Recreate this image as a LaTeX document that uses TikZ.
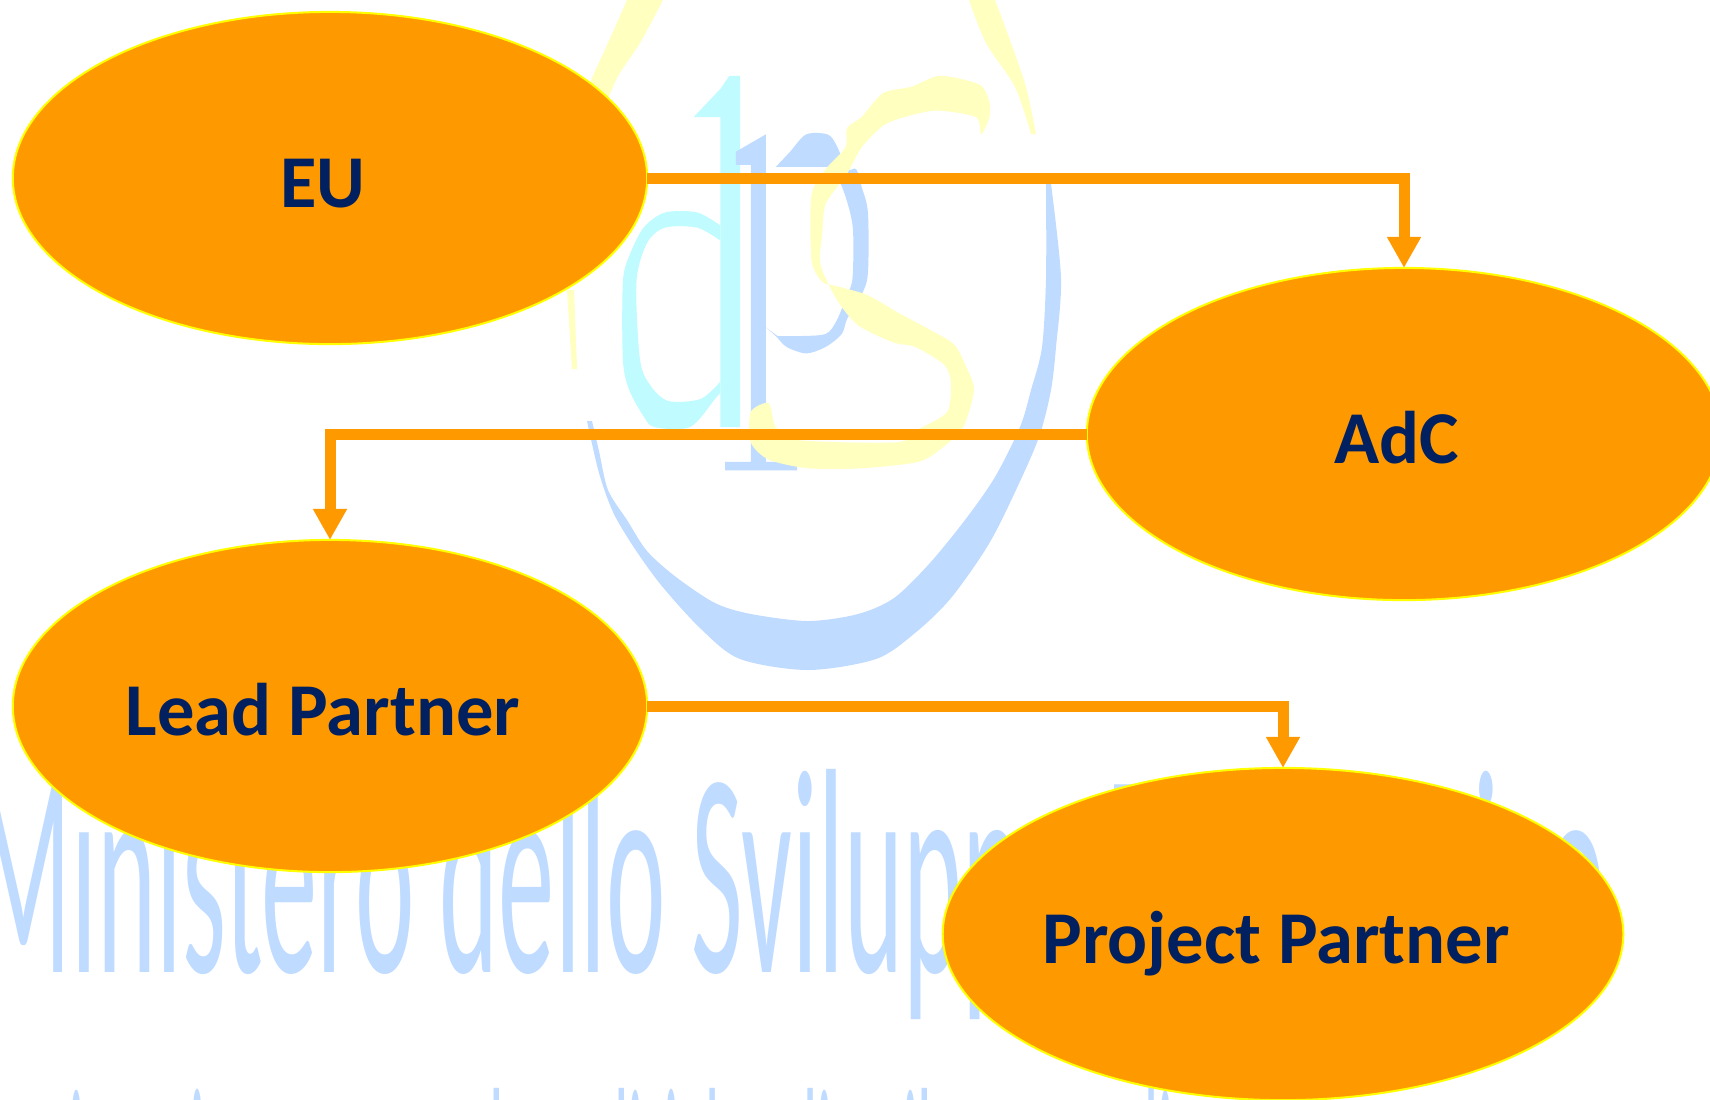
\documentclass[tikz,border=0pt]{standalone}
\usepackage{fontspec}
\setmainfont{Carlito}
\usepackage{xcolor}
\usetikzlibrary{
	arrows.meta,
	positioning,
	shapes.geometric
}
\definecolor{nodeOrange}{HTML}{FF9900}
\definecolor{nodeYellow}{HTML}{FFFF00}
\definecolor{labelNavy}{HTML}{002060}
\definecolor{markBlue}{HTML}{BFDBFF}
\definecolor{markCyan}{HTML}{BFFBFF}
\definecolor{markYellow}{HTML}{FFFFBF}
\tikzset{
	partner/.style={ellipse,draw=nodeYellow,fill=nodeOrange,line width=0.2mm,inner sep=0,outer sep=0,minimum width=6.34cm,minimum height=3.32cm,text=labelNavy,text height=5.8mm,text depth=0,font=\fontsize{21.2}{24}\selectfont\bfseries,execute at end node={\hspace{1.4mm}}},
	flow/.style={draw=nodeOrange,line width=1.1mm,-{Triangle[length=3.1mm,width=3.2mm]}},
	wmark/.style={text=markBlue,inner sep=0,anchor=base west,transform shape}
}
\begin{document}
\begin{tikzpicture}[x=0.01cm,y=-0.01cm]
	\path[use as bounding box,clip] (0,0) rectangle (1710,1099);
	% watermark ring
	\fill[markYellow] plot[smooth] coordinates {(627,0) (608,43) (592,78) (575,120)} -- plot[smooth] coordinates {(600,120) (617,78) (640,43) (663,0)} -- cycle;
	\fill[markYellow] (567,290) -- (572,369) -- (577,369) -- (574,290) -- cycle;
	\fill[markYellow] plot[smooth] coordinates {(969,0) (986,43) (1015,87) (1031,134)} -- plot[smooth] coordinates {(1036,134) (1026,87) (1011,43) (995,0)} -- cycle;
	\fill[markBlue] plot[smooth] coordinates {(587,421) (599,473) (613,512) (633,546) (661,585) (701,629) (740,659) (808,670) (876,659) (915,633) (951,598) (990,542) (1022,477) (1040,434) (1051,390) (1056,347) (1061,278) (1051,184)}
		-- plot[smooth] coordinates {(1046,184) (1046,278) (1042,347) (1031,390) (1020,427) (995,477) (965,520) (929,564) (894,598) (858,614) (808,621) (751,614) (715,603) (676,577) (647,551) (627,520) (608,490) (599,451) (592,421)} -- cycle;
	% watermark letters
	\begin{scope}[shift={(540,0)},x=0.003571cm,y=-0.004337cm]
		\fill[markCyan] (430,270) -- (505,205) -- (530,175) -- (560,175) -- (560,985) -- (505,985) -- (505,270) -- cycle;
		\fill[markCyan] plot[smooth] coordinates {(505,520) (440,490) (350,490) (290,525) (250,590) (232,650) (232,830) (250,900) (290,960) (320,985) (420,985) (490,920) (505,905)}
			-- plot[smooth] coordinates {(505,880) (450,920) (360,925) (310,890) (280,830) (270,650) (300,560) (350,525) (440,525) (505,555)} -- cycle;
		\fill[markBlue] (548,350) -- (590,330) -- (632,310) -- (632,1065) -- (720,1065) -- (720,1085) -- (518,1085) -- (518,1065) -- (590,1065) -- (590,380) -- (548,380) -- cycle;
		\fill[markBlue] plot[smooth] coordinates {(660,385) (700,350) (745,310) (805,310) (830,335) (860,390) (885,390) (900,430) (918,490) (918,630) (900,680) (860,735) (845,770) (800,800) (745,815) (690,800) (660,775) (632,755)}
			-- plot[smooth] coordinates {(665,775) (730,775) (800,770) (830,740) (860,680) (875,640) (875,520) (845,430) (810,385)} -- cycle;
		\fill[markYellow] plot[smooth cycle,tension=0.45] coordinates {(1235,310) (1258,270) (1258,235) (1230,195) (1120,175) (1040,200) (960,215) (900,270) (860,295) (855,340) (800,390) (760,450) (760,600) (790,650) (830,660) (915,680) (1000,720) (1090,760) (1160,795) (1195,850) (1215,900) (1185,985) (1130,1030) (1060,1065) (900,1080) (750,1080) (640,1060) (590,1020) (590,950) (640,930) (660,985) (720,1015) (1000,1020) (1060,990) (1140,950) (1150,880) (1130,840) (1050,800) (990,790) (890,750) (830,690) (785,610) (790,540) (800,470) (860,400) (900,340) (960,290) (1020,270) (1110,255) (1220,270)};
	\end{scope}
	\node[wmark,yscale=2.6] (wmtitle) at (-25,972) {\fontsize{32}{32}\selectfont Ministero dello Sviluppo Economico};
	\node[wmark,yscale=4.6] (wmsub) at (30,1290) {\fontsize{18}{18}\selectfont Dipartimento per le Politiche di Sviluppo e di Coesione};
	% nodes
	\node[partner] (eu) at (330,178) {EU};
	\node[partner] (adc) at (1404,434) {AdC};
	\node[partner] (lead) at (330,706) {Lead Partner};
	\node[partner] (proj) at (1283,934) {Project Partner};
	% flows
	\draw[flow] (eu.east) -| (adc.north);
	\draw[flow] (adc.west) -| (lead.north);
	\draw[flow] (lead.east) -| (proj.north);
\end{tikzpicture}
\end{document}
